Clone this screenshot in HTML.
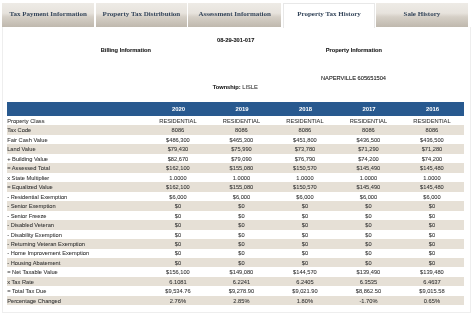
<!DOCTYPE html>
<html><head><meta charset="utf-8"><style>
html,body{margin:0;padding:0;background:#fff;width:474px;height:316px;overflow:hidden;}
body{position:relative;font-family:"Liberation Sans",sans-serif;color:#333;}
.box{position:absolute;left:2.2px;top:26.9px;width:469.2px;height:286.4px;border:0.8px solid #eeeeee;border-top:none;box-sizing:border-box;}
.tab{position:absolute;top:3px;height:23.9px;background:linear-gradient(#eeebe6 0%,#e7e3dd 42%,#d5cfc6 58%,#bfb8ad 100%);font-family:"Liberation Serif",serif;font-weight:bold;font-size:7px;color:#34455a;text-align:center;line-height:23.2px;}
.tab.active{background:#fff;border:0.5px solid #e8e8e8;border-bottom:none;height:25px;box-sizing:border-box;line-height:20.8px;}
.t{position:absolute;font-size:5.69px;white-space:nowrap;color:#222;-webkit-text-stroke:0.1px #222;}
.b{font-weight:bold;}
table{position:absolute;left:7.2px;top:102.1px;width:456.5px;border-collapse:collapse;table-layout:fixed;font-size:5.69px;}
col.l{width:139px;}
thead tr{background:#28598f;height:13.9px;}
thead th{color:#fff;font-weight:bold;text-align:center;padding:0 0 0.8px 1.2px;font-size:5.95px;}
tbody tr{height:9.47px;}
tbody th{text-align:left;font-weight:normal;padding:0.4px 0 0 0;color:#333;-webkit-text-stroke:0.06px #333;}
tbody td{text-align:center;padding:0.4px 0 0 0;color:#333;-webkit-text-stroke:0.06px #333;}
tr.alt{background:#e6e0d6;}
.wrap{position:absolute;left:0;top:0;width:474px;height:316px;background:#fff;will-change:transform;}
</style></head><body><div class="wrap">
<div class="tab" style="left:2.4px;width:91.5px;">Tax Payment Information</div>
<div class="tab" style="left:95.9px;width:91.1px;">Property Tax Distribution</div>
<div class="tab" style="left:188.3px;width:92.7px;">Assessment Information</div>
<div class="tab active" style="left:283.2px;width:91.6px;">Property Tax History</div>
<div class="tab" style="left:375.6px;width:92.6px;">Sale History</div>
<div class="box"></div>
<div class="t b" style="left:217px;top:36.6px;">08-29-301-017</div>
<div class="t b" style="left:100.7px;top:46.9px;">Billing Information</div>
<div class="t b" style="left:325.7px;top:46.9px;">Property Information</div>
<div class="t" style="left:321px;top:74.6px;">NAPERVILLE 605651504</div>
<div class="t" style="left:212.7px;top:84.1px;"><span class="b">Township:</span> <span style="color:#444;-webkit-text-stroke:0.1px #444">LISLE</span></div>
<table>
<colgroup><col class="l"><col><col><col><col><col></colgroup>
<thead><tr><th></th><th>2020</th><th>2019</th><th>2018</th><th>2017</th><th>2016</th></tr></thead>
<tbody>
<tr><th>Property Class</th><td>RESIDENTIAL</td><td>RESIDENTIAL</td><td>RESIDENTIAL</td><td>RESIDENTIAL</td><td>RESIDENTIAL</td></tr>
<tr class="alt"><th>Tax Code</th><td>8086</td><td>8086</td><td>8086</td><td>8086</td><td>8086</td></tr>
<tr><th>Fair Cash Value</th><td>$486,300</td><td>$465,300</td><td>$451,800</td><td>$436,500</td><td>$436,500</td></tr>
<tr class="alt"><th>Land Value</th><td>$79,430</td><td>$75,990</td><td>$73,780</td><td>$71,290</td><td>$71,280</td></tr>
<tr><th>+ Building Value</th><td>$82,670</td><td>$79,090</td><td>$76,790</td><td>$74,200</td><td>$74,200</td></tr>
<tr class="alt"><th>= Assessed Total</th><td>$162,100</td><td>$155,080</td><td>$150,570</td><td>$145,490</td><td>$145,480</td></tr>
<tr><th>x State Multiplier</th><td>1.0000</td><td>1.0000</td><td>1.0000</td><td>1.0000</td><td>1.0000</td></tr>
<tr class="alt"><th>= Equalized Value</th><td>$162,100</td><td>$155,080</td><td>$150,570</td><td>$145,490</td><td>$145,480</td></tr>
<tr><th>- Residential Exemption</th><td>$6,000</td><td>$6,000</td><td>$6,000</td><td>$6,000</td><td>$6,000</td></tr>
<tr class="alt"><th>- Senior Exemption</th><td>$0</td><td>$0</td><td>$0</td><td>$0</td><td>$0</td></tr>
<tr><th>- Senior Freeze</th><td>$0</td><td>$0</td><td>$0</td><td>$0</td><td>$0</td></tr>
<tr class="alt"><th>- Disabled Veteran</th><td>$0</td><td>$0</td><td>$0</td><td>$0</td><td>$0</td></tr>
<tr><th>- Disability Exemption</th><td>$0</td><td>$0</td><td>$0</td><td>$0</td><td>$0</td></tr>
<tr class="alt"><th>- Returning Veteran Exemption</th><td>$0</td><td>$0</td><td>$0</td><td>$0</td><td>$0</td></tr>
<tr><th>- Home Improvement Exemption</th><td>$0</td><td>$0</td><td>$0</td><td>$0</td><td>$0</td></tr>
<tr class="alt"><th>- Housing Abatement</th><td>$0</td><td>$0</td><td>$0</td><td>$0</td><td>$0</td></tr>
<tr><th>= Net Taxable Value</th><td>$156,100</td><td>$149,080</td><td>$144,570</td><td>$139,490</td><td>$139,480</td></tr>
<tr class="alt"><th>x Tax Rate</th><td>6.1081</td><td>6.2241</td><td>6.2405</td><td>6.3535</td><td>6.4637</td></tr>
<tr><th>= Total Tax Due</th><td>$9,534.76</td><td>$9,278.90</td><td>$9,021.90</td><td>$8,862.50</td><td>$9,015.58</td></tr>
<tr class="alt"><th>Percentage Changed</th><td>2.76%</td><td>2.85%</td><td>1.80%</td><td>-1.70%</td><td>0.65%</td></tr>
</tbody></table>
</div></body></html>
